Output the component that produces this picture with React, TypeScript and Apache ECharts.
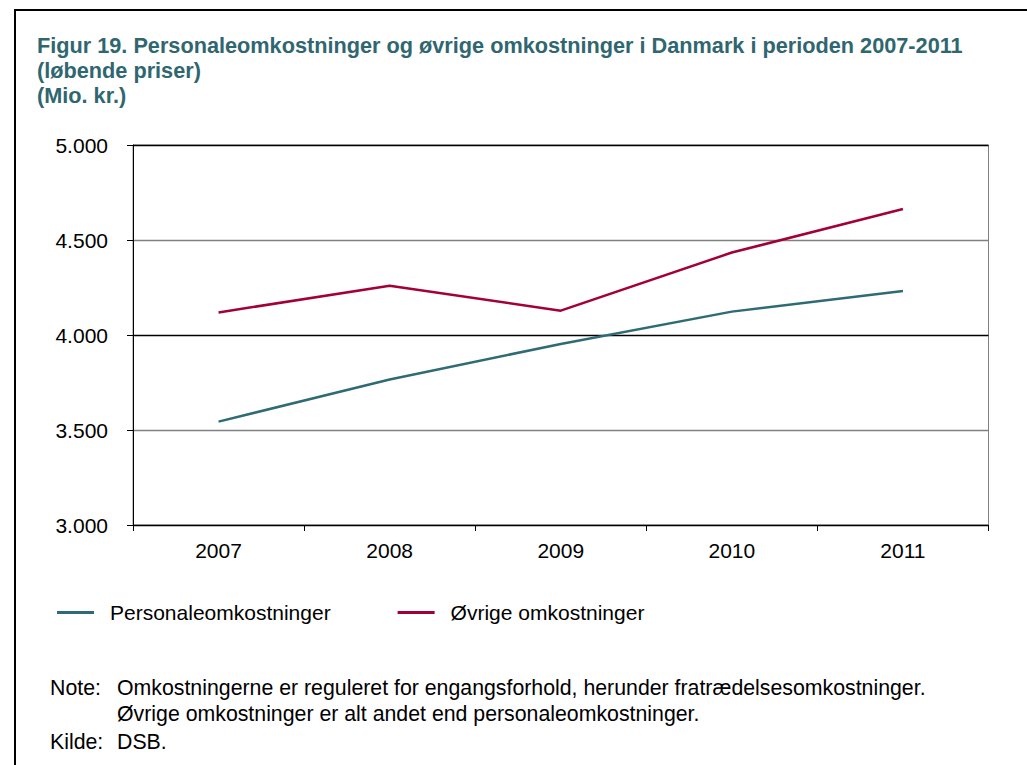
import React, { useEffect, useRef } from "react";
import * as echarts from "echarts";

const years = ["2007", "2008", "2009", "2010", "2011"];
const personale = [3544, 3766, 3953, 4123, 4231];
const oevrige = [4119, 4259, 4128, 4434, 4663];
const seriesNames = ["Personaleomkostninger", "Øvrige omkostninger"];
const titleLines = [
  "Figur 19. Personaleomkostninger og øvrige omkostninger i Danmark i perioden 2007-2011",
  "(løbende priser)",
  "(Mio. kr.)",
];
const noteLines = [
  "Omkostningerne er reguleret for engangsforhold, herunder fratrædelsesomkostninger.",
  "Øvrige omkostninger er alt andet end personaleomkostninger.",
];
const sourceText = "DSB.";

const TEAL = "#2e6b75";
const RED = "#a3003a";
const FONT = "'Liberation Sans', Arial, sans-serif";

export default function App() {
  const ref = useRef<HTMLDivElement>(null);
  useEffect(() => {
    document.body.style.margin = "0";
    const chart = echarts.init(ref.current!, null, { renderer: "svg" });
    const fmt = (v: number) => String(v).replace(/\B(?=(\d{3})+(?!\d))/g, ".");
    const txt = (x: number, y: number, text: string) => ({
      type: "text",
      x,
      y,
      style: { text, fill: "#000", font: `21.3px ${FONT}`, textVerticalAlign: "middle" },
    });
    chart.setOption({
      animation: false,
      backgroundColor: "#fff",
      title: {
        text: titleLines.join("\n"),
        left: 32,
        top: 28,
        textStyle: { color: "#2f6670", fontWeight: "bold", fontSize: 21.7, fontFamily: FONT, lineHeight: 25 },
      },
      legend: {
        left: 52,
        top: 597,
        itemWidth: 37,
        itemHeight: 3,
        itemGap: 67,
        icon: "rect",
        data: seriesNames,
        textStyle: { fontSize: 21, fontFamily: FONT, color: "#000", padding: [0, 0, 0, 11] },
      },
      grid: {
        left: 133,
        right: 38.5,
        top: 145,
        bottom: 240,
        show: true,
        borderColor: "#808080",
        borderWidth: 1,
        backgroundColor: "transparent",
      },
      xAxis: {
        type: "category",
        data: years,
        boundaryGap: true,
        axisLine: { lineStyle: { color: "#000", width: 1 } },
        axisTick: { show: true, length: 6, lineStyle: { color: "#000" } },
        axisLabel: { fontSize: 21, fontFamily: FONT, color: "#000", margin: 15 },
      },
      yAxis: {
        type: "value",
        min: 3000,
        max: 5000,
        interval: 500,
        axisLine: { show: true, lineStyle: { color: "#000", width: 1 } },
        axisTick: { show: true, length: 6, lineStyle: { color: "#000" } },
        axisLabel: { fontSize: 21, fontFamily: FONT, color: "#000", margin: 25, formatter: fmt },
        splitLine: { show: true, lineStyle: { color: ["#000", "#808080"], width: 1.3 } },
      },
      series: [
        {
          name: seriesNames[0],
          type: "line",
          data: personale,
          symbol: "none",
          color: TEAL,
          lineStyle: { color: TEAL, width: 2.5 },
        },
        {
          name: seriesNames[1],
          type: "line",
          data: oevrige,
          symbol: "none",
          color: RED,
          lineStyle: { color: RED, width: 2.5 },
        },
      ],
      graphic: [
        {
          type: "rect",
          shape: { x: 15, y: 10, width: 1100, height: 900 },
          style: { fill: "none", stroke: "#000", lineWidth: 2 },
          silent: true,
        },
        txt(50, 688, "Note:"),
        txt(117, 688, noteLines[0]),
        txt(117, 714, noteLines[1]),
        txt(50, 742, "Kilde:"),
        txt(117, 742, sourceText),
      ],
    });
    return () => chart.dispose();
  }, []);
  return <div ref={ref} style={{ width: 1027, height: 765 }} />;
}
